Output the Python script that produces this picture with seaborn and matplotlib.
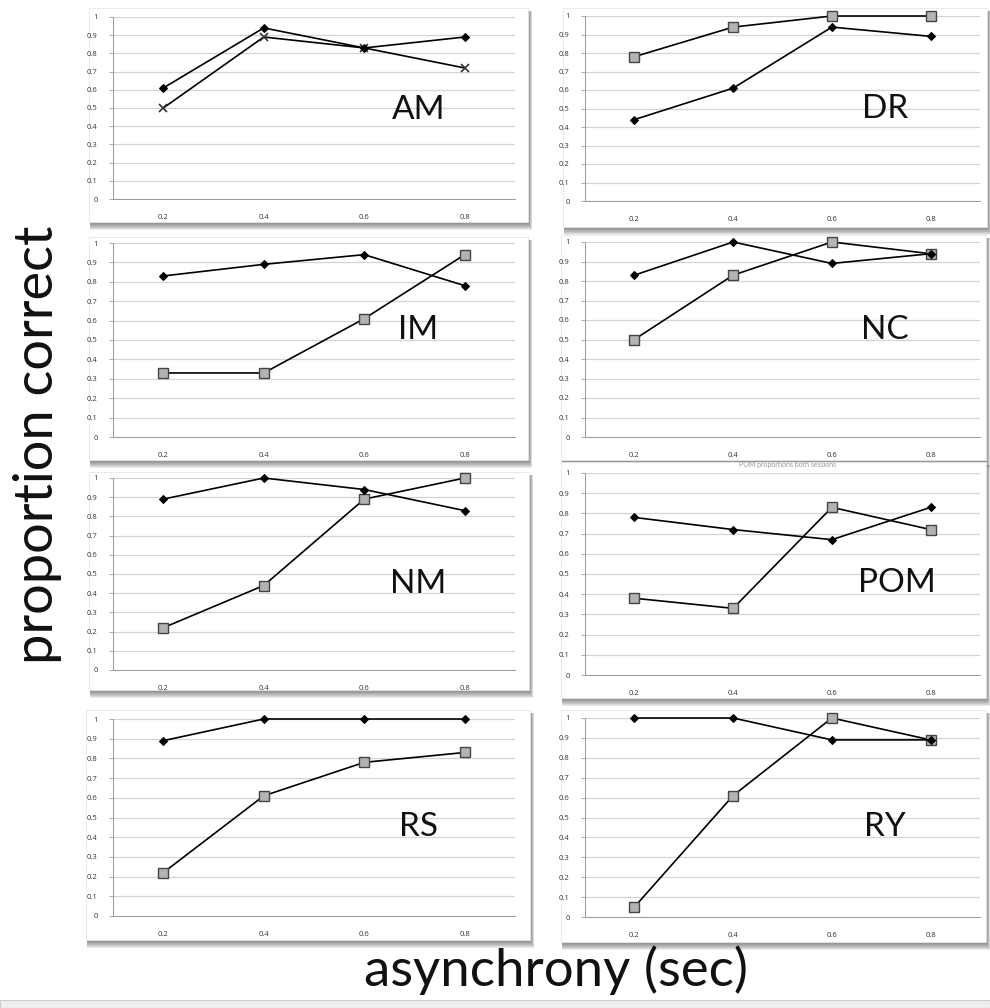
import numpy as np
import pandas as pd
import matplotlib
matplotlib.use('Agg')
import matplotlib.pyplot as plt
import seaborn as sns
from matplotlib.patches import Rectangle

# asynchrony levels (sec) shared by every panel
asynchrony = [0.2, 0.4, 0.6, 0.8]

# proportion correct per subject: first series = black diamonds, second = grey squares (AM: crosses)
am_diamond = [0.61, 0.94, 0.83, 0.89]
am_cross = [0.50, 0.89, 0.83, 0.72]
dr_diamond = [0.44, 0.61, 0.94, 0.89]
dr_square = [0.78, 0.94, 1.00, 1.00]
im_diamond = [0.83, 0.89, 0.94, 0.78]
im_square = [0.33, 0.33, 0.61, 0.94]
nc_diamond = [0.83, 1.00, 0.89, 0.94]
nc_square = [0.50, 0.83, 1.00, 0.94]
nm_diamond = [0.89, 1.00, 0.94, 0.83]
nm_square = [0.22, 0.44, 0.89, 1.00]
pom_diamond = [0.78, 0.72, 0.67, 0.83]
pom_square = [0.38, 0.33, 0.83, 0.72]
rs_diamond = [0.89, 1.00, 1.00, 1.00]
rs_square = [0.22, 0.61, 0.78, 0.83]
ry_diamond = [1.00, 1.00, 0.89, 0.89]
ry_square = [0.05, 0.61, 1.00, 0.89]

subjects = ['AM', 'DR', 'IM', 'NC', 'NM', 'POM', 'RS', 'RY']
y_ticks = [0, 0.1, 0.2, 0.3, 0.4, 0.5, 0.6, 0.7, 0.8, 0.9, 1]
y_tick_labels = ['0', '0.1', '0.2', '0.3', '0.4', '0.5', '0.6', '0.7', '0.8', '0.9', '1']
x_tick_labels = ['0.2', '0.4', '0.6', '0.8']

series = {
    'AM': (am_diamond, am_cross), 'DR': (dr_diamond, dr_square),
    'IM': (im_diamond, im_square), 'NC': (nc_diamond, nc_square),
    'NM': (nm_diamond, nm_square), 'POM': (pom_diamond, pom_square),
    'RS': (rs_diamond, rs_square), 'RY': (ry_diamond, ry_square),
}
rows = []
for s in subjects:
    first, second = series[s]
    for x, a, b in zip(asynchrony, first, second):
        rows.append({'subject': s, 'asynchrony': x, 'series': 'diamond', 'proportion': a})
        rows.append({'subject': s, 'asynchrony': x, 'series': 'cross' if s == 'AM' else 'square',
                     'proportion': b})
df = pd.DataFrame(rows)

W, H = 990, 1008
sns.set_style('white')
plt.rcParams['font.family'] = ['Lato', 'DejaVu Sans']

fig = plt.figure(figsize=(W / 100, H / 100), dpi=100)

# layout in pixels: plot area (left, top, right, bottom), white box (left, top, right, bottom), label pos
layout = {
    'AM': ((113, 17, 515, 199), (89, 8, 528, 222), (0.76, 0.49)),
    'DR': ((585, 16, 980, 201), (563, 8, 987, 227), (0.76, 0.50)),
    'IM': ((113, 243, 515, 437), (89, 237, 528, 460), (0.76, 0.55)),
    'NC': ((585, 242, 980, 437), (561, 235, 986, 460), (0.76, 0.55)),
    'NM': ((113, 478, 515, 670), (89, 472, 529, 690), (0.76, 0.45)),
    'POM': ((585, 473, 980, 675), (561, 462, 986, 698), (0.79, 0.455)),
    'RS': ((113, 719, 515, 916), (86, 710, 530, 940), (0.76, 0.45)),
    'RY': ((585, 718, 980, 917), (561, 710, 986, 942), (0.76, 0.45)),
}


def fig_rect(l, t, r, b):
    return (l / W, 1 - b / H, (r - l) / W, (b - t) / H)


for s in subjects:
    plot_px, box_px, lab = layout[s]
    bl, bt, br, bb = box_px
    # soft drop shadow under the white box
    for k in range(8):
        off = 8 - k
        x0, y0, w, h = fig_rect(bl + 1, bt + 3, br + off * 0.5, bb + off)
        fig.add_artist(Rectangle((x0, y0), w, h, transform=fig.transFigure,
                                 facecolor='#2a2a2a', edgecolor='none', alpha=0.09, zorder=-3))
    x0, y0, w, h = fig_rect(*box_px)
    fig.add_artist(Rectangle((x0, y0), w, h, transform=fig.transFigure,
                             facecolor='white', edgecolor='#e6e6e6', lw=0.6, zorder=-2))

    ax = fig.add_axes(fig_rect(*plot_px))
    ax.set_facecolor('none')
    sub = df[df['subject'] == s]
    sec = 'cross' if s == 'AM' else 'square'
    if sec == 'square':
        sns.lineplot(data=sub[sub['series'] == sec], x='asynchrony', y='proportion', ax=ax,
                     color='black', lw=1.2, marker='s', markersize=7.5,
                     markerfacecolor='#b3b3b3', markeredgecolor='#444444', markeredgewidth=1.0,
                     clip_on=False, zorder=3)
    else:
        sns.lineplot(data=sub[sub['series'] == sec], x='asynchrony', y='proportion', ax=ax,
                     color='black', lw=1.2, marker='x', markersize=6,
                     markeredgecolor='#333333', markeredgewidth=1.2, clip_on=False, zorder=3)
    sns.lineplot(data=sub[sub['series'] == 'diamond'], x='asynchrony', y='proportion', ax=ax,
                 color='black', lw=1.2, marker='D', markersize=3.6,
                 markerfacecolor='black', markeredgecolor='black', clip_on=False, zorder=4)

    ax.set_xlim(0.1, 0.9)
    ax.set_ylim(0, 1)
    ax.set_yticks(y_ticks)
    ax.set_yticklabels(y_tick_labels, family=['Open Sans', 'DejaVu Sans'])
    ax.set_xticks(asynchrony)
    ax.set_xticklabels(x_tick_labels, family=['Open Sans', 'DejaVu Sans'])
    ax.set_xticks([0.1, 0.3, 0.5, 0.7, 0.9], minor=True)
    ax.tick_params(axis='x', which='major', length=0, labelsize=5.5, pad=11, labelcolor='#333344')
    ax.tick_params(axis='x', which='minor', length=3, width=0.6, color='#999999', direction='out')
    ax.tick_params(axis='y', length=3, width=0.6, color='#999999', labelsize=5.5,
                   pad=8, labelcolor='#333344', left=True)
    ax.yaxis.grid(True, color='#d4d4d4', lw=0.9)
    ax.set_axisbelow(True)
    for side in ['top', 'right']:
        ax.spines[side].set_visible(False)
    for side in ['left', 'bottom']:
        ax.spines[side].set_color('#999999')
        ax.spines[side].set_linewidth(0.7)
    ax.set_xlabel('')
    ax.set_ylabel('')
    ax.text(lab[0], lab[1], s, transform=ax.transAxes, fontsize=24, ha='center', va='center',
            color='#111111')

# faint chart title peeking in the POM panel
fig.text(788 / W, 1 - 465 / H, 'POM proportions both sessions', fontsize=5, color='#999999',
         ha='center', va='center', zorder=-1)

fig.text(38 / W, 1 - 445 / H, 'proportion correct', rotation=90, fontsize=39,
         ha='center', va='center', color='#111111')
fig.text(556 / W, 1 - 970 / H, 'asynchrony (sec)', fontsize=38,
         ha='center', va='center', color='#111111')

# thin grey strip at the very bottom
fig.add_artist(Rectangle((0, 0), 1, 8 / H, transform=fig.transFigure,
                         facecolor='#eeeeee', edgecolor='#cccccc', lw=0.8, zorder=-3))

fig.savefig('out.png', dpi=100)
